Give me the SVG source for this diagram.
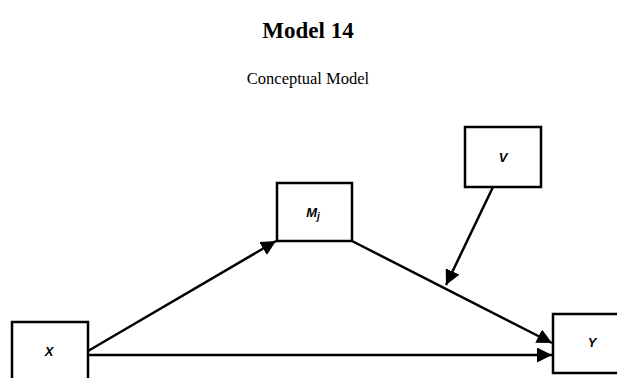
<svg xmlns="http://www.w3.org/2000/svg" width="617" height="378" viewBox="0 0 617 378">
<defs>
<style>
.box{fill:#fff;stroke:#000;stroke-width:2.5}
.lbl{font-family:"Liberation Sans",Arial,sans-serif;font-weight:bold;font-style:italic;font-size:13px;fill:#000;text-anchor:middle}
.edge{stroke:#000;stroke-width:2.5;fill:none;marker-end:url(#ah)}
</style>
<marker id="ah" viewBox="0 0 10 10" refX="10" refY="5" markerWidth="6" markerHeight="6" markerUnits="strokeWidth" orient="auto">
<path d="M0,0 L10,5 L0,10 z" fill="#000"/>
</marker>
</defs>
<rect width="617" height="378" fill="#fff"/>
<text x="308" y="38" font-family="Liberation Serif,Times New Roman,serif" font-weight="bold" font-size="23" text-anchor="middle">Model 14</text>
<text x="308" y="84" font-family="Liberation Serif,Times New Roman,serif" font-size="16.5" text-anchor="middle">Conceptual Model</text>
<g id="connectors">
<line class="edge" x1="88" y1="351" x2="276" y2="241"/>
<line class="edge" x1="88" y1="355" x2="552" y2="355"/>
<line class="edge" x1="352" y1="241" x2="552" y2="343"/>
<line class="edge" x1="493" y1="187" x2="446" y2="285"/>
</g>
<g id="node-M"><rect class="box" x="277" y="183" width="75" height="58"/><text class="lbl" x="313" y="217">M<tspan font-size="10" dy="3">j</tspan></text></g>
<g id="node-V"><rect class="box" x="465" y="127" width="76" height="60"/><text class="lbl" x="503" y="162">V</text></g>
<g id="node-X"><rect class="box" x="12" y="322" width="76" height="70"/><text class="lbl" x="49" y="356">X</text></g>
<g id="node-Y"><rect class="box" x="553" y="314" width="76" height="59"/><text class="lbl" x="592" y="347">Y</text></g>
</svg>
